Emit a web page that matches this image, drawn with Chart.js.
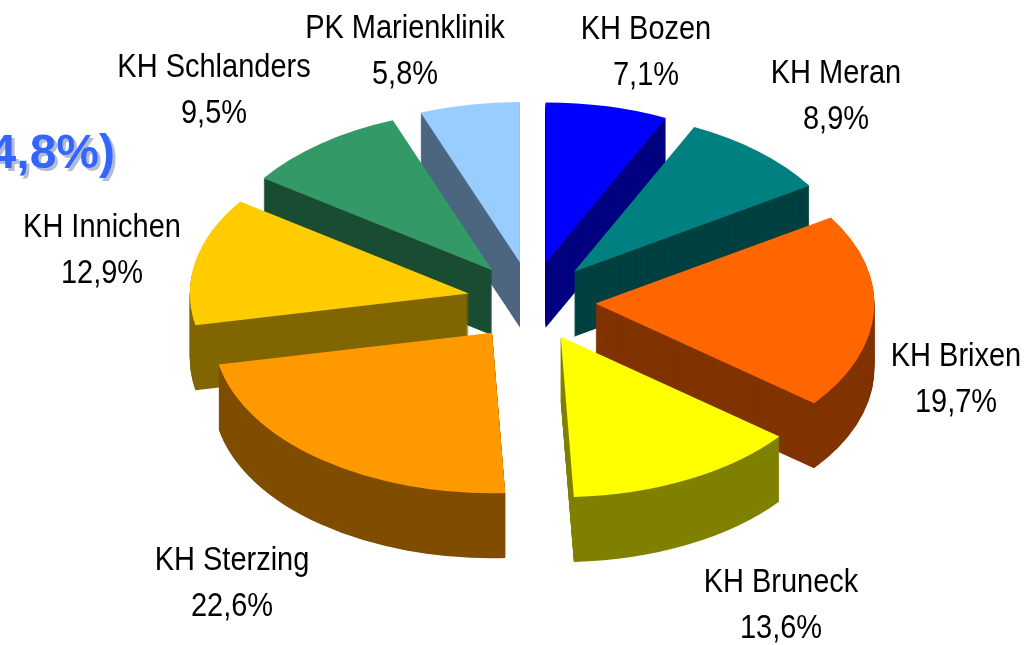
<!DOCTYPE html>
<html>
<head>
<meta charset="utf-8">
<style>html,body{margin:0;padding:0;background:#fff;overflow:hidden}#w{width:1034px;height:645px}</style>
<script src="https://cdn.jsdelivr.net/npm/chart.js@4/dist/chart.umd.min.js"></script>
</head>
<body>
<div id="w"><canvas id="c" width="1034" height="645"></canvas></div>
<script>
const categories = ['KH Bozen','KH Meran','KH Brixen','KH Bruneck','KH Sterzing','KH Innichen','KH Schlanders','PK Marienklinik'];
const shares = [7.1,8.9,19.7,13.6,22.6,12.9,9.5,5.8];
const faceColors = ['#0000FF','#008080','#FF6600','#FFFF00','#FF9900','#FFCC00','#339966','#99CCFF'];
const wallColors = ['#000080','#004040','#803300','#808000','#804D00','#806600','#1A4D33','#4D6680'];
const labelCenterX = [646,836,956,781,232,102,214,405];
const labelBaselineY = [39,83,366,592,570,237,77,38];
const titleFragment = '4,8%)';

const squash = 0.575, depth = 65, explodeX = 64, explodeY = 69, centerX = 531.5, centerY = 301.5, radius = 279;

function applyTilt(ctx, dy) {
  ctx.translate(centerX, centerY + dy);
  ctx.scale(1, squash);
  ctx.translate(-centerX, -centerY);
}
const pie3d = {
  id: 'pie3d',
  afterDatasetsUpdate(chart) {
    chart.getDatasetMeta(0).data.forEach(arc => {
      const mid = (arc.startAngle + arc.endAngle) / 2;
      arc.x = centerX + Math.cos(mid) * explodeX;
      arc.y = centerY + Math.sin(mid) * explodeY;
    });
  },
  beforeDatasetsDraw(chart) {
    const ctx = chart.ctx;
    const arcs = chart.getDatasetMeta(0).data.map((arc, i) => ({arc, i}));
    arcs.sort((p, q) => Math.sin((p.arc.startAngle + p.arc.endAngle) / 2) - Math.sin((q.arc.startAngle + q.arc.endAngle) / 2));
    arcs.forEach(({arc, i}) => {
      const original = arc.options;
      arc.options = Object.assign({}, original, {backgroundColor: wallColors[i], borderWidth: 0});
      for (let d = depth; d >= 1; d--) {
        ctx.save();
        applyTilt(ctx, d);
        arc.draw(ctx);
        ctx.restore();
      }
      arc.options = original;
    });
    ctx.save();
    applyTilt(ctx, 0);
  },
  afterDatasetsDraw(chart) {
    chart.ctx.restore();
  },
  afterDraw(chart) {
    const ctx = chart.ctx;
    ctx.save();
    ctx.textBaseline = 'alphabetic';
    ctx.textAlign = 'center';
    ctx.fillStyle = '#000';
    ctx.font = '33.5px "Liberation Sans", Arial, sans-serif';
    const drawText = (t, x, y) => {
      ctx.save();
      ctx.translate(x, y);
      ctx.scale(0.865, 1);
      ctx.fillText(t, 0, 0);
      ctx.restore();
    };
    categories.forEach((name, i) => {
      drawText(name, labelCenterX[i], labelBaselineY[i]);
      drawText(shares[i].toFixed(1).replace('.', ',') + '%', labelCenterX[i], labelBaselineY[i] + 46);
    });
    ctx.textAlign = 'right';
    ctx.font = 'bold 48px "Liberation Sans", Arial, sans-serif';
    ctx.fillStyle = '#B4BCD4';
    ctx.fillText(titleFragment, 118, 171);
    ctx.fillStyle = '#3366FF';
    ctx.fillText(titleFragment, 115, 168);
    ctx.restore();
  }
};

new Chart(document.getElementById('c'), {
  type: 'pie',
  data: {
    labels: categories,
    datasets: [{data: shares, backgroundColor: faceColors, borderWidth: 0, clip: false}]
  },
  options: {
    responsive: false,
    animation: false,
    events: [],
    radius: radius,
    plugins: {legend: {display: false}, tooltip: {enabled: false}, title: {display: false}}
  },
  plugins: [pie3d]
});
</script>
</body>
</html>
